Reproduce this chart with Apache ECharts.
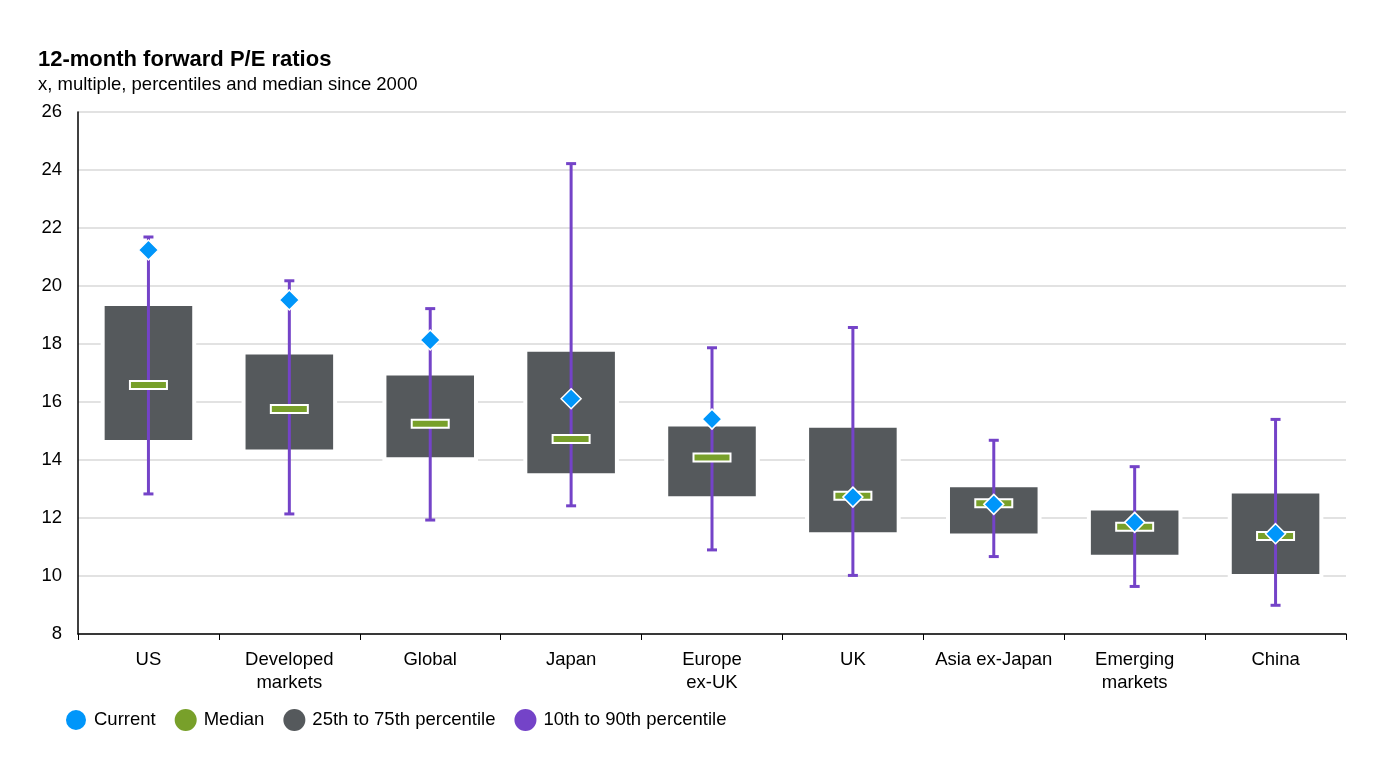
<!DOCTYPE html>
<html>
<head>
<meta charset="utf-8">
<script src="https://cdn.jsdelivr.net/npm/echarts@6/dist/echarts.min.js"></script>
<style>
  html, body { margin: 0; padding: 0; background: #fff; }
  #chart_container { width: 1379px; height: 775px; }
</style>
</head>
<body>
<div id="chart_container"></div>
<script>
// categories and values
var categories = ['US', 'Developed\nmarkets', 'Global', 'Japan', 'Europe\nex-UK', 'UK', 'Asia ex-Japan', 'Emerging\nmarkets', 'China'];
var p10 = [12.83, 12.14, 11.93, 12.42, 10.90, 10.02, 10.67, 9.64, 8.99];
var p25 = [14.62, 14.29, 14.03, 13.47, 12.68, 11.44, 11.40, 10.66, 10.00];
var median = [16.59, 15.76, 15.25, 14.72, 14.09, 12.77, 12.51, 11.70, 11.38];
var p75 = [19.38, 17.71, 16.98, 17.80, 15.22, 15.18, 13.13, 12.33, 12.91];
var p90 = [21.69, 20.18, 19.22, 24.22, 17.87, 18.57, 14.68, 13.77, 15.40];
var current = [21.24, 19.52, 18.14, 16.11, 15.41, 12.72, 12.47, 11.85, 11.46];

var c_current = '#0096FA';
var c_median = '#78A02A';
var c_box = '#55595C';
var c_whisker = '#7443C8';

var chart = echarts.init(document.getElementById('chart_container'));

var boxData = categories.map(function (c, i) { return [i, p25[i], p75[i]]; });
var whiskerData = categories.map(function (c, i) { return [i, p10[i], p90[i]]; });
var medianData = categories.map(function (c, i) { return [i, median[i]]; });
var currentData = categories.map(function (c, i) { return [i, current[i]]; });

var option = {
  backgroundColor: '#fff',
  textStyle: { fontFamily: 'Liberation Sans, Arial, sans-serif' },
  title: {
    text: '12-month forward P/E ratios',
    subtext: 'x, multiple, percentiles and median since 2000',
    left: 33,
    top: 44,
    itemGap: 4,
    textStyle: { fontSize: 22, fontWeight: 'bold', color: '#000' },
    subtextStyle: { fontSize: 18.5, color: '#000' }
  },
  legend: {
    left: 59,
    top: 703,
    itemWidth: 22,
    itemHeight: 22,
    itemGap: 19,
    icon: 'circle',
    textStyle: { fontSize: 18.5, color: '#000', padding: [0, 0, 0, 2] },
    data: ['Current', 'Median', '25th to 75th percentile', '10th to 90th percentile']
  },
  grid: { left: 78, right: 33, top: 112, bottom: 141 },
  xAxis: {
    type: 'category',
    data: categories,
    axisLine: { lineStyle: { color: '#000', width: 1.5 } },
    axisTick: { show: true, length: 6, interval: 0, lineStyle: { color: '#000' } },
    axisLabel: { interval: 0, fontSize: 18.5, color: '#000', margin: 14, lineHeight: 23 }
  },
  yAxis: {
    type: 'value',
    min: 8,
    max: 26,
    interval: 2,
    axisLine: { show: true, lineStyle: { color: '#000', width: 1.5 } },
    axisTick: { show: false },
    axisLabel: { fontSize: 18.5, color: '#000', margin: 16 },
    splitLine: { lineStyle: { color: '#D9D9D9', width: 1.5 } }
  },
  series: [
    {
      name: '25th to 75th percentile',
      type: 'custom',
      itemStyle: { color: c_box },
      data: boxData,
      z: 2,
      renderItem: function (params, api) {
        var lo = api.coord([api.value(0), api.value(1)]);
        var hi = api.coord([api.value(0), api.value(2)]);
        var w = api.size([1, 0])[0] * 0.65;
        return {
          type: 'rect',
          shape: { x: lo[0] - w / 2, y: hi[1], width: w, height: lo[1] - hi[1] },
          style: { fill: c_box, stroke: '#fff', lineWidth: 4 }
        };
      }
    },
    {
      name: '10th to 90th percentile',
      type: 'custom',
      itemStyle: { color: c_whisker },
      data: whiskerData,
      z: 3,
      renderItem: function (params, api) {
        var lo = api.coord([api.value(0), api.value(1)]);
        var hi = api.coord([api.value(0), api.value(2)]);
        var cap = 5;
        var st = { stroke: c_whisker, lineWidth: 3 };
        return {
          type: 'group',
          children: [
            { type: 'line', shape: { x1: lo[0], y1: lo[1], x2: hi[0], y2: hi[1] }, style: st },
            { type: 'line', shape: { x1: lo[0] - cap, y1: lo[1], x2: lo[0] + cap, y2: lo[1] }, style: st },
            { type: 'line', shape: { x1: hi[0] - cap, y1: hi[1], x2: hi[0] + cap, y2: hi[1] }, style: st }
          ]
        };
      }
    },
    {
      name: 'Median',
      type: 'custom',
      itemStyle: { color: c_median },
      data: medianData,
      z: 4,
      renderItem: function (params, api) {
        var p = api.coord([api.value(0), api.value(1)]);
        var w = 37, h = 8;
        return {
          type: 'rect',
          shape: { x: p[0] - w / 2, y: p[1] - h / 2, width: w, height: h },
          style: { fill: c_median, stroke: '#fff', lineWidth: 2 }
        };
      }
    },
    {
      name: 'Current',
      type: 'scatter',
      symbol: 'diamond',
      symbolSize: [20, 20],
      itemStyle: { color: c_current, borderColor: '#fff', borderWidth: 1.5, opacity: 1 },
      data: currentData,
      z: 5
    }
  ]
};

chart.setOption(option);
</script>
</body>
</html>
